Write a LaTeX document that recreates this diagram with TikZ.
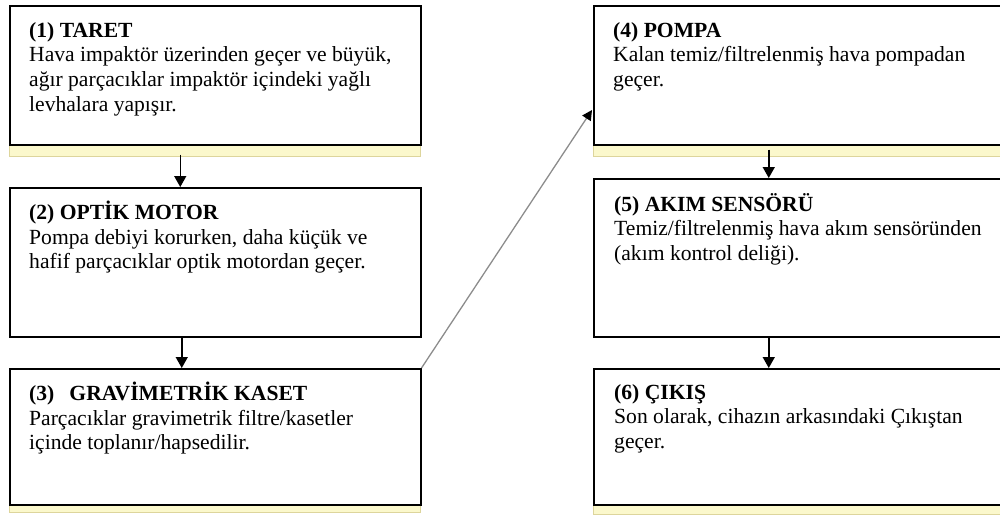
\documentclass[tikz,border=0pt]{standalone}
\usepackage{fontspec}
\setmainfont[Ligatures=NoCommon]{Liberation Serif}
\usetikzlibrary{arrows.meta}
\definecolor{stripfill}{HTML}{FBF8CC}
\definecolor{stripedge}{HTML}{DDD59C}
\definecolor{diagline}{HTML}{8C8C8C}
\tikzset{
  box/.style={draw=black, line width=1.5pt, fill=white, anchor=north west, inner sep=0pt},
  strip/.style={fill=stripfill, draw=stripedge, line width=0.8pt},
  txt/.style={anchor=north west, inner sep=0pt, align=left, font=\fontsize{21.6}{24.6}\selectfont},
  arr/.style={line width=1.5pt, -{Triangle[width=12pt,length=11pt]}},
  darr/.style={draw=diagline, line width=1.3pt, -{Triangle[width=10pt,length=10pt,color=black]}}
}
\newcommand{\tstrut}{\rule{0pt}{16pt}}
\begin{document}
\begin{tikzpicture}[x=1pt,y=-1pt]
\useasboundingbox (0,0) rectangle (1000,514);
\clip (0,0) rectangle (1000,514);
% yellow strips
\path[strip] (9,145) rectangle (420,156) node[coordinate] (s1) {};
\path[strip] (593,145) rectangle (1003,156) node[coordinate] (s4) {};
\path[strip] (9,504) rectangle (420,512) node[coordinate] (s3) {};
\path[strip] (593,504) rectangle (1003,514) node[coordinate] (s6) {};
% boxes
\node[box, minimum width=411pt, minimum height=139pt] (b1) at (9,5) {};
\node[box, minimum width=411pt, minimum height=149pt] (b2) at (9,187) {};
\node[box, minimum width=411pt, minimum height=136pt] (b3) at (9,368) {};
\node[box, minimum width=410pt, minimum height=139pt] (b4) at (593,5) {};
\node[box, minimum width=410pt, minimum height=158pt] (b5) at (593,178) {};
\node[box, minimum width=410pt, minimum height=136pt] (b6) at (593,368) {};
% texts
\node[txt] (t1) at (29,21) {\tstrut\textbf{(1) TARET}\\Hava impaktör üzerinden geçer ve büyük,\\ağır parçacıklar impaktör içindeki yağlı\\levhalara yapışır.};
\node[txt] (t2) at (29,201) {\tstrut\textbf{(2) OPTİK MOTOR}\\Pompa debiyi korurken, daha küçük ve\\hafif parçacıklar optik motordan geçer.};
\node[txt] (t3) at (29,382) {\tstrut\textbf{(3)\hspace{0.45em} GRAVİMETRİK KASET}\\Parçacıklar gravimetrik filtre/kasetler\\içinde toplanır/hapsedilir.};
\node[txt] (t4) at (613,21) {\tstrut\textbf{(4) POMPA}\\Kalan temiz/filtrelenmiş hava pompadan\\geçer.};
\node[txt] (t5) at (614,193) {\tstrut\textbf{(5) AKIM SENSÖRÜ}\\Temiz/filtrelenmiş hava akım sensöründen\\(akım kontrol deliği).};
\node[txt] (t6) at (614,383) {\tstrut\textbf{(6) ÇIKIŞ}\\Son olarak, cihazın arkasındaki Çıkıştan\\geçer.};
% connectors
\draw[arr] ([xshift=-35pt,yshift=-9pt]b1.south) -- ([xshift=-35pt]b2.north);
\draw[arr] ([xshift=-33.5pt]b2.south) -- ([xshift=-33.5pt]b3.north);
\draw[arr] ([xshift=-30pt,yshift=-4pt]b4.south) -- ([xshift=-30pt]b5.north);
\draw[arr] ([xshift=-30pt]b5.south) -- ([xshift=-30pt]b6.north);
\coordinate (d4) at (592,110);
\draw[darr] (b3.north east) -- (d4);
\end{tikzpicture}
\end{document}
